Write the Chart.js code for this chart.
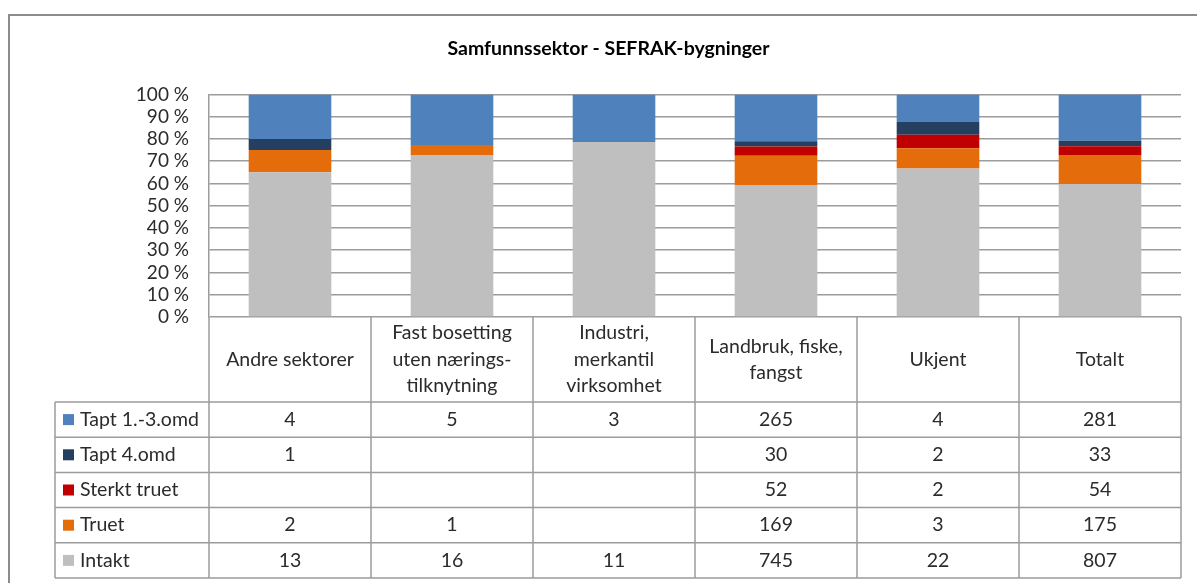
<!DOCTYPE html>
<html>
<head>
<meta charset="utf-8">
<script src="https://cdn.jsdelivr.net/npm/chart.js@4"></script>
<style>
  html, body { margin: 0; padding: 0; background: #fff; }
  canvas { display: block; }
</style>
</head>
<body>
<canvas id="sefrak" width="1197" height="583"></canvas>
<script>
// categories (multi-line header labels) and counts per series
const categories = [
  ["Andre sektorer"],
  ["Fast bosetting", "uten nærings-", "tilknytning"],
  ["Industri,", "merkantil", "virksomhet"],
  ["Landbruk, fiske,", "fangst"],
  ["Ukjent"],
  ["Totalt"]
];
const seriesNames = ["Tapt 1.-3.omd", "Tapt 4.omd", "Sterkt truet", "Truet", "Intakt"];
const taptTidlig  = [4, 5, 3, 265, 4, 281];
const taptSen     = [1, null, null, 30, 2, 33];
const sterktTruet = [null, null, null, 52, 2, 54];
const truet       = [2, 1, null, 169, 3, 175];
const intakt      = [13, 16, 11, 745, 22, 807];
const seriesColors = ["#4F81BD", "#243F60", "#C00000", "#E46C0A", "#BFBFBF"];
const yTicks = [0, 10, 20, 30, 40, 50, 60, 70, 80, 90, 100];

const rows = [taptTidlig, taptSen, sterktTruet, truet, intakt];
const totals = categories.map((c, i) => rows.reduce((s, r) => s + (r[i] || 0), 0));
const pct = arr => arr.map((v, i) => v == null ? 0 : v / totals[i] * 100);

const FONT = "Lato";
const TEXT = "#2b2b2b";
const LINE = "#9c9c9c";

// stacked bottom to top: Intakt .. Tapt 1.-3.omd
const datasets = [4, 3, 2, 1, 0].map(k => ({
  label: seriesNames[k],
  data: pct(rows[k]),
  backgroundColor: seriesColors[k],
  barPercentage: 0.51,
  categoryPercentage: 1.0
}));

const tablePlugin = {
  id: "dataTable",
  beforeDraw(chart) {
    const ctx = chart.ctx;
    ctx.save();
    ctx.fillStyle = "#fff";
    ctx.fillRect(0, 0, chart.width, chart.height);
    // outer frame
    ctx.strokeStyle = "#8c8c8c";
    ctx.lineWidth = 2;
    ctx.beginPath();
    ctx.moveTo(9, chart.height);
    ctx.lineTo(9, 15);
    ctx.lineTo(chart.width, 15);
    ctx.stroke();
    ctx.restore();
  },
  afterDraw(chart) {
    const ctx = chart.ctx;
    const x = chart.scales.x;
    const n = categories.length;
    const colW = x.width / n;
    const top = chart.chartArea.bottom;
    const headBottom = 402;
    const rowH = 35.2;
    const tableBottom = headBottom + rowH * seriesNames.length;
    const legLeft = 55;

    ctx.save();
    ctx.strokeStyle = LINE;
    ctx.lineWidth = 1.5;
    ctx.beginPath();
    // vertical column lines
    for (let i = 0; i <= n; i++) {
      const xx = x.left + i * colW;
      ctx.moveTo(xx, top);
      ctx.lineTo(xx, tableBottom);
    }
    ctx.moveTo(legLeft, headBottom);
    ctx.lineTo(legLeft, tableBottom);
    // horizontal row lines
    for (let r = 0; r <= seriesNames.length; r++) {
      const yy = headBottom + r * rowH;
      ctx.moveTo(legLeft, yy);
      ctx.lineTo(x.right, yy);
    }
    ctx.stroke();

    ctx.fillStyle = TEXT;
    ctx.font = "19.5px " + FONT;
    ctx.textAlign = "center";
    ctx.textBaseline = "middle";
    // header labels
    const lh = 26.5;
    const hc = (top + headBottom) / 2;
    categories.forEach((lines, i) => {
      const cx = x.getPixelForValue(i);
      const y0 = hc - (lines.length - 1) * lh / 2;
      lines.forEach((t, j) => ctx.fillText(t, cx, y0 + j * lh));
    });
    // values
    rows.forEach((arr, r) => {
      const cy = headBottom + r * rowH + rowH / 2;
      arr.forEach((v, i) => {
        if (v != null) ctx.fillText(String(v), x.getPixelForValue(i), cy);
      });
    });
    // legend column
    ctx.textAlign = "left";
    seriesNames.forEach((name, r) => {
      const cy = headBottom + r * rowH + rowH / 2;
      ctx.fillStyle = seriesColors[r];
      ctx.fillRect(63, cy - 5.5, 11, 11);
      ctx.fillStyle = TEXT;
      ctx.fillText(name, 80, cy);
    });
    ctx.restore();
  }
};

new Chart("sefrak", {
  type: "bar",
  data: {
    labels: categories,
    datasets: datasets
  },
  options: {
    responsive: false,
    animation: false,
    layout: { padding: { left: 36, right: 16, top: 0, bottom: 0 } },
    plugins: {
      legend: { display: false },
      tooltip: { enabled: false },
      title: {
        display: true,
        text: "Samfunnssektor - SEFRAK-bygninger",
        color: "#000",
        font: { family: FONT, size: 19.5, weight: "bold", lineHeight: 1.2 },
        padding: { top: 37, bottom: 34 }
      }
    },
    scales: {
      x: {
        stacked: true,
        ticks: { display: false },
        grid: { display: false },
        border: { display: false },
        afterFit(s) { s.height = 266; }
      },
      y: {
        stacked: true,
        min: 0,
        max: 100,
        afterBuildTicks(s) { s.ticks = yTicks.map(v => ({ value: v })); },
        ticks: {
          autoSkip: false,
          padding: 20,
          color: TEXT,
          font: { family: FONT, size: 19 },
          callback: v => v + " %"
        },
        grid: { color: LINE, lineWidth: 1.5, drawTicks: false },
        border: { display: true, color: LINE, width: 1.5 },
        afterFit(s) { s.width = 173; }
      }
    }
  },
  plugins: [tablePlugin]
});
</script>
</body>
</html>
